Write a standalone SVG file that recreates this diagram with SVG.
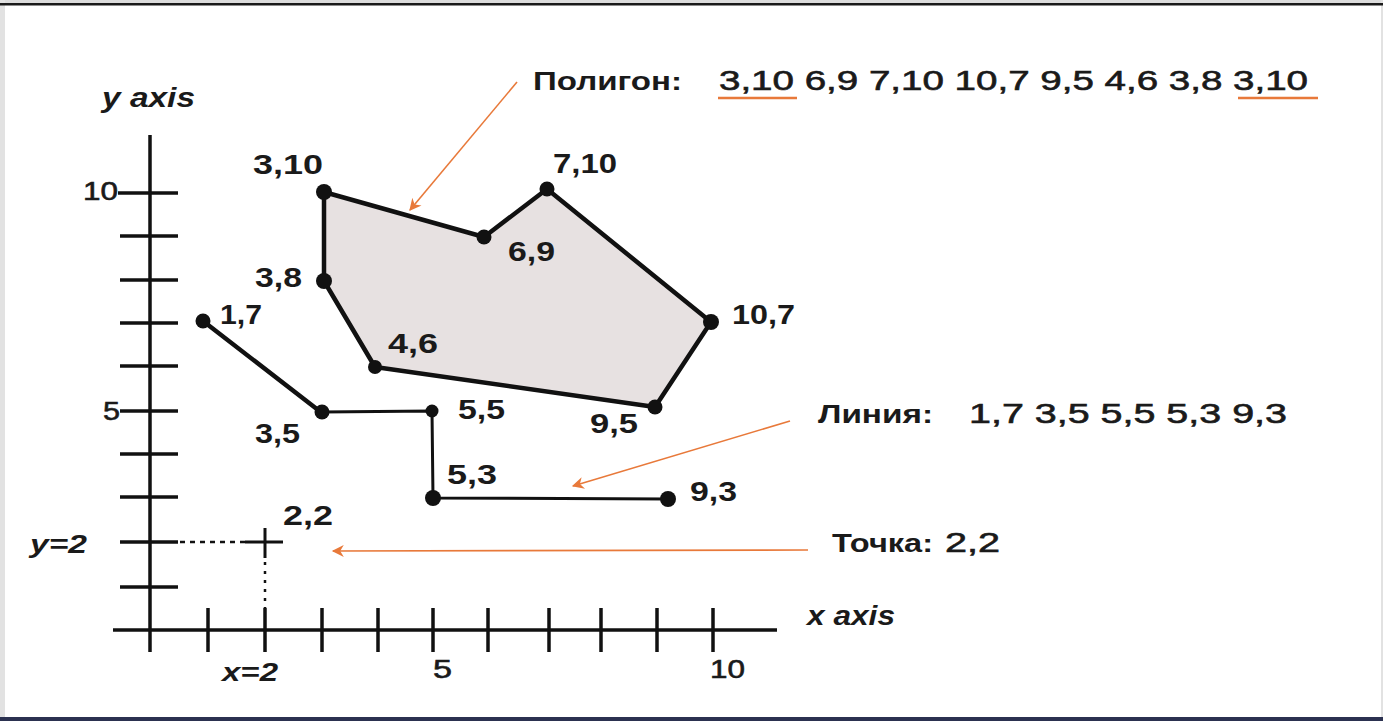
<svg xmlns="http://www.w3.org/2000/svg" width="1383" height="721" viewBox="0 0 1383 721">
<style>
.t{font-family:"Liberation Sans",Arial,sans-serif;fill:#1a1a1a;font-weight:bold}
.n{font-family:"Liberation Sans",Arial,sans-serif;fill:#1a1a1a;font-weight:normal;stroke:#1a1a1a;stroke-width:0.6}
.ti{font-family:"Liberation Sans",Arial,sans-serif;fill:#1a1a1a;font-weight:bold;font-style:italic}
.ax{stroke:#111;stroke-width:3.5;fill:none}
.ln{stroke:#111;fill:none;stroke-linecap:round;stroke-linejoin:round}
.dot{fill:#111}
.or{stroke:#e8793a;stroke-width:1.6;fill:none}
.ul{stroke:#e8793a;stroke-width:2.5}
</style>
<defs>
<marker id="ah2" viewBox="0 0 10 10" refX="9" refY="5" markerWidth="16" markerHeight="12" markerUnits="userSpaceOnUse" orient="auto"><path d="M0,0 L10,5 L0,10 L3,5 z" fill="#e8793a"/></marker>
</defs>
<rect x="0" y="0" width="1383" height="721" fill="#ffffff"/>
<rect x="0" y="0" width="1383" height="3" fill="#dcdcdc"/>
<rect x="0" y="0" width="5" height="721" fill="#e2e2e2"/>
<rect x="1381" y="0" width="2" height="721" fill="#e2e2e2"/>
<rect x="0" y="3" width="1383" height="2.5" fill="#1a1a1a"/>
<rect x="0" y="717" width="1383" height="4" fill="#2b3150"/>

<g id="axes">
<line class="ax" x1="150" y1="135" x2="150" y2="652"/>
<line class="ax" x1="113" y1="630" x2="777" y2="630"/>
<g class="ax">
<line x1="118" y1="193" x2="178" y2="193"/>
<line x1="120" y1="236" x2="178" y2="236"/>
<line x1="120" y1="280" x2="178" y2="280"/>
<line x1="120" y1="323" x2="178" y2="323"/>
<line x1="120" y1="366" x2="178" y2="366"/>
<line x1="120" y1="411" x2="178" y2="411"/>
<line x1="120" y1="454" x2="178" y2="454"/>
<line x1="120" y1="497" x2="178" y2="497"/>
<line x1="120" y1="542" x2="178" y2="542"/>
<line x1="120" y1="587" x2="178" y2="587"/>
<line x1="208" y1="608" x2="208" y2="652"/>
<line x1="265" y1="608" x2="265" y2="652"/>
<line x1="322" y1="608" x2="322" y2="652"/>
<line x1="378" y1="608" x2="378" y2="652"/>
<line x1="433" y1="608" x2="433" y2="652"/>
<line x1="488" y1="608" x2="488" y2="652"/>
<line x1="549" y1="608" x2="549" y2="652"/>
<line x1="601" y1="608" x2="601" y2="652"/>
<line x1="657" y1="608" x2="657" y2="652"/>
<line x1="713" y1="608" x2="713" y2="652"/>
</g>
<text class="ti" x="102" y="107" font-size="28" textLength="93" lengthAdjust="spacingAndGlyphs">y axis</text>
<text class="ti" x="807" y="625" font-size="28" textLength="88" lengthAdjust="spacingAndGlyphs">x axis</text>
<text class="n" x="83" y="200" font-size="26" textLength="35" lengthAdjust="spacingAndGlyphs">10</text>
<text class="n" x="103" y="420" font-size="26" textLength="17" lengthAdjust="spacingAndGlyphs">5</text>
<text class="n" x="433" y="678" font-size="26" textLength="19" lengthAdjust="spacingAndGlyphs">5</text>
<text class="n" x="710" y="678" font-size="26" textLength="35" lengthAdjust="spacingAndGlyphs">10</text>
<text class="ti" x="30" y="553" font-size="26" textLength="57" lengthAdjust="spacingAndGlyphs">y=2</text>
<text class="ti" x="222" y="681" font-size="26" textLength="56" lengthAdjust="spacingAndGlyphs">x=2</text>
</g>

<g id="point">
<line x1="180" y1="542" x2="245" y2="542" stroke="#111" stroke-width="2.5" stroke-dasharray="5,5"/>
<line x1="265" y1="562" x2="265" y2="608" stroke="#111" stroke-width="2.5" stroke-dasharray="3,6"/>
<line x1="245" y1="542" x2="283" y2="542" stroke="#111" stroke-width="3"/>
<line x1="265" y1="528" x2="265" y2="558" stroke="#111" stroke-width="3"/>
<text class="t" x="283" y="525" font-size="27" textLength="50" lengthAdjust="spacingAndGlyphs">2,2</text>
</g>

<g id="polygon">
<polygon points="324,192 484,237 547,189 711,322 655,407 375,367 324,281" fill="#e7e1e1" stroke="#111" stroke-width="4.5" stroke-linejoin="round"/>
<circle class="dot" cx="324" cy="192" r="8"/>
<circle class="dot" cx="484" cy="237" r="7.5"/>
<circle class="dot" cx="547" cy="189" r="7.5"/>
<circle class="dot" cx="711" cy="322" r="8"/>
<circle class="dot" cx="655" cy="407" r="7.5"/>
<circle class="dot" cx="375" cy="367" r="7"/>
<circle class="dot" cx="324" cy="281" r="8"/>
<text class="t" x="253" y="174" font-size="27" textLength="70" lengthAdjust="spacingAndGlyphs">3,10</text>
<text class="t" x="553" y="173" font-size="27" textLength="64" lengthAdjust="spacingAndGlyphs">7,10</text>
<text class="t" x="508" y="261" font-size="27" textLength="47" lengthAdjust="spacingAndGlyphs">6,9</text>
<text class="t" x="255" y="287" font-size="27" textLength="47" lengthAdjust="spacingAndGlyphs">3,8</text>
<text class="t" x="388" y="353" font-size="27" textLength="50" lengthAdjust="spacingAndGlyphs">4,6</text>
<text class="t" x="732" y="324" font-size="27" textLength="63" lengthAdjust="spacingAndGlyphs">10,7</text>
<text class="t" x="590" y="433" font-size="27" textLength="48" lengthAdjust="spacingAndGlyphs">9,5</text>
</g>

<g id="polyline">
<line class="ln" x1="203" y1="321" x2="322" y2="413" stroke-width="4.5"/>
<polyline class="ln" points="322,412 432,411 433,498 668,499" stroke-width="3"/>
<circle class="dot" cx="203" cy="321" r="7.5"/>
<circle class="dot" cx="322" cy="412" r="7.5"/>
<circle class="dot" cx="432" cy="411" r="6.5"/>
<circle class="dot" cx="433" cy="498" r="8"/>
<circle class="dot" cx="668" cy="499" r="8"/>
<text class="t" x="220" y="324" font-size="27" textLength="42" lengthAdjust="spacingAndGlyphs">1,7</text>
<text class="t" x="255" y="443" font-size="27" textLength="45" lengthAdjust="spacingAndGlyphs">3,5</text>
<text class="t" x="458" y="419" font-size="27" textLength="47" lengthAdjust="spacingAndGlyphs">5,5</text>
<text class="t" x="447" y="484" font-size="27" textLength="50" lengthAdjust="spacingAndGlyphs">5,3</text>
<text class="t" x="690" y="501" font-size="27" textLength="47" lengthAdjust="spacingAndGlyphs">9,3</text>
</g>

<g id="legend-polygon">
<text class="t" x="533" y="90" font-size="25" textLength="149" lengthAdjust="spacingAndGlyphs">Полигон:</text>
<text class="n" x="719" y="90" font-size="27" textLength="589" lengthAdjust="spacingAndGlyphs">3,10 6,9 7,10 10,7 9,5 4,6 3,8 3,10</text>
<line class="ul" x1="718" y1="98" x2="797" y2="98"/>
<line class="ul" x1="1238" y1="98" x2="1318" y2="98"/>
</g>
<g id="legend-line">
<text class="t" x="818" y="423" font-size="25" textLength="115" lengthAdjust="spacingAndGlyphs">Линия:</text>
<text class="n" x="969" y="423" font-size="27" textLength="318" lengthAdjust="spacingAndGlyphs">1,7 3,5 5,5 5,3 9,3</text>
</g>
<g id="legend-point">
<text class="t" x="832" y="552" font-size="25" textLength="101" lengthAdjust="spacingAndGlyphs">Точка:</text>
<text class="n" x="945" y="552" font-size="27" textLength="55" lengthAdjust="spacingAndGlyphs">2,2</text>
</g>

<g id="connectors">
<line class="or" x1="517" y1="82" x2="410" y2="210" marker-end="url(#ah2)"/>
<line class="or" x1="790" y1="421" x2="573" y2="486" marker-end="url(#ah2)"/>
<line class="or" x1="808" y1="550" x2="333" y2="551" marker-end="url(#ah2)"/>
</g>
</svg>
